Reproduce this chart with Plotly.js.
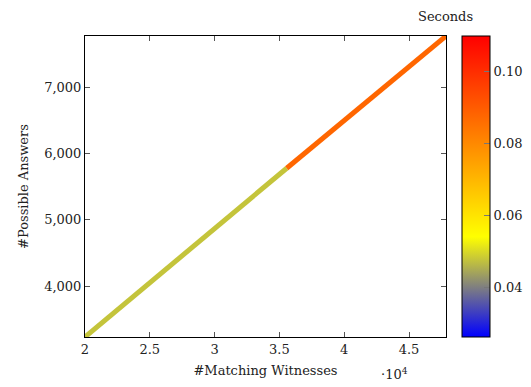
<!DOCTYPE html>
<html><head><meta charset="utf-8">
<script src="https://cdn.plot.ly/plotly-3.0.1.min.js"></script>
<style>body{margin:0;background:#fff}#c{width:531px;height:387px}</style>
</head><body><div id="c"></div>
<script>
// Data: matching witnesses vs possible answers, coloured by seconds
const witnesses = [20000, 35560, 47850];
const answers = [3231, 5778, 7774];
const segmentSeconds = [0.0475, 0.0875];
const cMin = 0.0261, cMax = 0.1098;
const cbTicks = [0.04, 0.06, 0.08, 0.10];
const xTickVals = [20000, 25000, 30000, 35000, 40000, 45000];
const xTickText = ['2', '2.5', '3', '3.5', '4', '4.5'];
const yTickVals = [4000, 5000, 6000, 7000];

const cscale = [[0, 'rgb(0,0,255)'], [1/3, 'rgb(255,255,0)'], [2/3, 'rgb(255,128,0)'], [1, 'rgb(255,0,0)']];
function colorAt(v) {
  const f = Math.max(0, Math.min(1, (v - cMin) / (cMax - cMin)));
  for (let i = 0; i < cscale.length - 1; i++) {
    const a = cscale[i], b = cscale[i + 1];
    if (f <= b[0]) {
      const t = (f - a[0]) / (b[0] - a[0]);
      const ca = a[1].match(/\d+/g).map(Number), cb = b[1].match(/\d+/g).map(Number);
      return 'rgb(' + ca.map((c, k) => Math.round(c + (cb[k] - c) * t)).join(',') + ')';
    }
  }
  return cscale[cscale.length - 1][1];
}

const font = {family: 'DejaVu Serif, serif', size: 13, color: '#222'};
const traces = [];
for (let i = 0; i < segmentSeconds.length; i++) {
  traces.push({
    x: [witnesses[i], witnesses[i + 1]], y: [answers[i], answers[i + 1]],
    mode: 'lines', line: {color: colorAt(segmentSeconds[i]), width: 5},
    hoverinfo: 'skip', showlegend: false
  });
}
traces.push({
  x: [witnesses[0]], y: [answers[0]], mode: 'markers',
  marker: {size: 0.1, opacity: 0, color: [cMin], cmin: cMin, cmax: cMax,
    colorscale: cscale, showscale: true,
    colorbar: {x: 1.0443, xanchor: 'left', xpad: 0, y: 1, yanchor: 'top', ypad: 0,
      len: 301, lenmode: 'pixels', thickness: 28, thicknessmode: 'pixels',
      outlinewidth: 1, outlinecolor: '#000', ticks: 'inside', ticklen: 6, tickwidth: 1,
      tickcolor: '#777', tickvals: cbTicks, tickformat: '.2f', tickfont: font}},
  showlegend: false, hoverinfo: 'skip'
});

const layout = {
  width: 531, height: 387, margin: {l: 85, r: 85, t: 36, b: 50, autoexpand: false},
  paper_bgcolor: '#fff', plot_bgcolor: '#fff', font: font, showlegend: false,
  xaxis: {range: [witnesses[0], witnesses[2]], tickvals: xTickVals, ticktext: xTickText,
    ticks: 'inside', ticklen: 5, tickcolor: '#555', showline: true, mirror: 'ticks',
    linecolor: '#000', linewidth: 1, showgrid: false, zeroline: false,
    title: {text: '#Matching Witnesses', font: font, standoff: 10}},
  yaxis: {range: [answers[0], answers[2]], tickvals: yTickVals, tickformat: ',d',
    ticks: 'inside', ticklen: 5, tickcolor: '#555', showline: true, mirror: 'ticks',
    linecolor: '#000', linewidth: 1, showgrid: false, zeroline: false,
    title: {text: '#Possible Answers', font: font, standoff: 12}},
  annotations: [
    {text: '·10<sup>4</sup>', x: 410, y: 384, showarrow: false, font: font},
    {text: 'Seconds', x: 475, y: 7, showarrow: false, font: font}
  ]
};
// convert pixel-based annotation positions to paper coords
const pw = 531 - 85 - 85, ph = 387 - 36 - 50;
layout.annotations = layout.annotations.map(a => Object.assign({}, a, {
  xref: 'paper', yref: 'paper', x: (a.x - 85) / pw, y: (337 - a.y) / ph
}));
Plotly.newPlot('c', traces, layout, {staticPlot: true});
</script></body></html>
